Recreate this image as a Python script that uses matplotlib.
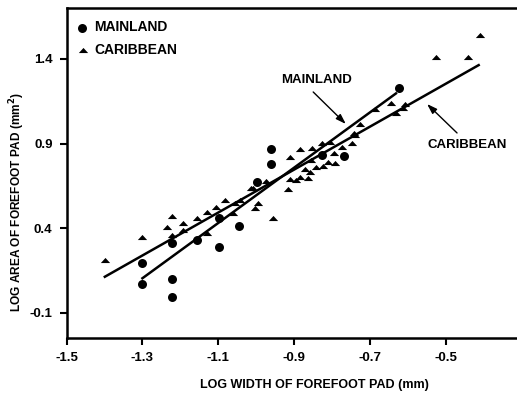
import matplotlib
matplotlib.use("Agg")
import matplotlib.pyplot as plt
import numpy as np
from matplotlib.path import Path

# ---- data ----
mainland_x = [-1.302, -1.302, -1.223, -1.223, -1.223, -1.157, -1.099, -1.099,
              -1.046, -0.999, -0.962, -0.962, -0.826, -0.770, -0.624]
mainland_y = [0.197, 0.071, 0.315, 0.102, -0.007, 0.331, 0.459, 0.288,
              0.414, 0.675, 0.866, 0.780, 0.833, 0.827, 1.226]

carib_x = [-1.399, -1.300, -1.223, -1.236, -1.194, -1.223, -1.194, -1.156,
           -1.130, -1.107, -1.083, -1.057, -1.131, -1.061, -1.043, -1.008,
           -1.004, -0.995, -0.975, -1.013, -0.956, -0.912, -0.916, -0.912,
           -0.894, -0.886, -0.864, -0.886, -0.872, -0.859, -0.855, -0.842,
           -0.824, -0.811, -0.793, -0.852, -0.826, -0.807, -0.796, -0.773,
           -0.747, -0.741, -0.743, -0.726, -0.686, -0.644, -0.631, -0.609,
           -0.614, -0.526, -0.443, -0.410]
carib_y = [0.213, 0.350, 0.473, 0.406, 0.433, 0.360, 0.390, 0.459,
           0.498, 0.527, 0.567, 0.548, 0.370, 0.489, 0.567, 0.636,
           0.518, 0.548, 0.681, 0.636, 0.459, 0.819, 0.630, 0.689,
           0.685, 0.866, 0.695, 0.701, 0.748, 0.734, 0.803, 0.764,
           0.768, 0.793, 0.787, 0.872, 0.902, 0.911, 0.843, 0.878,
           0.902, 0.951, 0.960, 1.016, 1.102, 1.138, 1.082, 1.134,
           1.110, 1.409, 1.409, 1.541]

# regression lines: slope, intercept, x-range
mainland_fit = (1.634, 2.229)
mainland_range = (-1.300, -0.632)
carib_fit = (1.269, 1.889)
carib_range = (-1.399, -0.414)

x_ticks = [-1.5, -1.3, -1.1, -0.9, -0.7, -0.5]
y_ticks = [-0.1, 0.4, 0.9, 1.4]

# ---- style ----
plt.rcParams['font.family'] = ['Liberation Sans', 'DejaVu Sans']
plt.rcParams['font.weight'] = 'bold'

fig = plt.figure(figsize=(5.17, 3.96), dpi=100)
ax = fig.add_axes([66.5/517, 58/396, 1 - 66.5/517, (338-8)/396])

ax.set_xlim(-1.5, -0.313)
ax.set_ylim(-0.248, 1.701)

tri = Path([(-1, -0.55), (1, -0.55), (0, 0.55), (-1, -0.55)],
           [Path.MOVETO, Path.LINETO, Path.LINETO, Path.CLOSEPOLY])

ax.scatter(carib_x, carib_y, marker=tri, s=45, color='black', linewidths=0, zorder=3)
ax.scatter(mainland_x, mainland_y, marker='o', s=42, color='black', linewidths=0, zorder=3)

for (m, b), (x0, x1) in [(mainland_fit, mainland_range), (carib_fit, carib_range)]:
    xs = np.array([x0, x1])
    ax.plot(xs, m * xs + b, color='black', lw=1.8, zorder=2)

ax.set_xticks(x_ticks)
ax.set_xticklabels([f"{v:.1f}" for v in x_ticks])
ax.set_yticks(y_ticks)
ax.set_yticklabels([f"{v:.1f}" for v in y_ticks])
ax.tick_params(direction='out', length=5, width=1.5, labelsize=9.5, pad=5)
for lbl in ax.get_xticklabels() + ax.get_yticklabels():
    lbl.set_fontweight('bold')

for s in ['left', 'bottom', 'top']:
    ax.spines[s].set_linewidth(1.8)
ax.spines['right'].set_visible(False)

ax.set_xlabel("LOG WIDTH OF FOREFOOT PAD (mm)", fontsize=9, fontweight='bold')
ax.xaxis.set_label_coords(0.55, -0.125)
ax.set_ylabel("LOG AREA OF FOREFOOT PAD (mm$^\\mathbf{2}$)", fontsize=8.6, fontweight='bold')
ax.yaxis.set_label_coords(-0.088, 0.412)

# legend
ax.scatter([0.035], [0.938], marker='o', s=42, color='black', transform=ax.transAxes, linewidths=0)
ax.text(0.062, 0.942, "MAINLAND", transform=ax.transAxes, fontsize=10, fontweight='bold', va='center')
ax.scatter([0.037], [0.873], marker=tri, s=45, color='black', transform=ax.transAxes, linewidths=0)
ax.text(0.062, 0.873, "CARIBBEAN", transform=ax.transAxes, fontsize=10, fontweight='bold', va='center')

# annotations
arrow = dict(arrowstyle='-|>,head_length=0.6,head_width=0.2', color='black', lw=1,
             shrinkA=0, shrinkB=0, mutation_scale=10)
ax.text(-0.842, 1.276, "MAINLAND", fontsize=9.5, fontweight='bold', ha='center', va='center')
ax.annotate("", xy=(-0.764, 1.016), xytext=(-0.850, 1.205), arrowprops=arrow)
ax.text(-0.445, 0.892, "CARIBBEAN", fontsize=9.5, fontweight='bold', ha='center', va='center')
ax.annotate("", xy=(-0.550, 1.134), xytext=(-0.471, 0.963), arrowprops=arrow)

fig.savefig("out.png", dpi=100)
